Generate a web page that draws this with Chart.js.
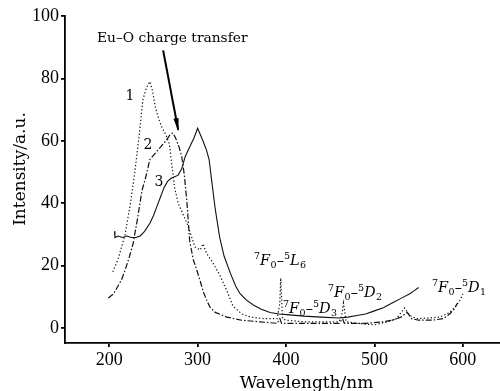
<!DOCTYPE html>
<html>
<head>
<meta charset="utf-8">
<script src="https://cdn.jsdelivr.net/npm/chart.js@4.4.1/dist/chart.umd.min.js"></script>
<style>
  body { margin: 0; background: #fff; }
  canvas { display: block; }
</style>
</head>
<body>
<canvas id="specChart" width="500" height="391"></canvas>
<script>
// excitation spectra
const wl1 = [204, 210, 218, 224, 229, 234, 238, 242, 246, 249, 252, 256, 260, 264, 268, 271, 274, 278, 288, 297, 303, 306, 310, 317, 325, 333, 340, 350, 360, 375, 390, 393, 394, 396, 400, 420, 440, 460, 463, 465, 468, 480, 500, 515, 525, 534, 540, 548, 560, 574, 585, 592, 597, 600];
const int1 = [18, 22, 30, 40, 50, 62, 73, 77, 79, 76, 71, 67, 64, 62, 59, 52, 45, 40, 33.6, 26, 25, 27, 24, 21, 17, 12, 7, 4.5, 3.5, 3, 3, 8, 16, 3, 2.5, 2, 2, 2, 4, 8, 2, 1.5, 1, 2, 3, 6.4, 4, 3, 3.2, 3.5, 5, 7, 9, 11];

const wl2 = [199, 205, 209, 214, 218, 223, 227, 232, 237, 241, 246, 252, 258, 264, 269, 272, 275, 279, 282, 285, 288, 291, 295, 299, 303, 306, 310, 314, 320, 333, 350, 370, 390, 393, 395, 397, 420, 440, 460, 464, 466, 470, 490, 510, 520, 530, 537, 542, 550, 565, 578, 585, 590, 594];
const int2 = [9.6, 11, 13, 15.5, 18.6, 23, 27, 35, 44, 48, 54, 56, 58, 60, 62, 62.5, 61, 58, 55, 49, 40, 28, 22, 18.6, 15, 12, 9, 6.7, 5, 3.5, 2.5, 2, 1.5, 3, 1.5, 1.5, 1.5, 1.5, 1.5, 3, 1.5, 1.5, 1.5, 2, 2.5, 3.5, 5, 3, 2.5, 2.5, 3, 4.5, 6, 8];

const wl3 = [206, 206.5, 210, 215, 220, 225, 230, 235, 240, 246, 250, 254, 258, 262, 266, 270, 274, 278, 282, 286, 291, 296, 300, 303, 306, 310, 313, 316, 320, 325, 330, 337, 343, 348, 355, 363, 372, 382, 392, 401, 420, 440, 460, 470, 480, 490, 500, 510, 520, 530, 540, 545, 550];
const int3 = [31, 29, 29.5, 29, 29.5, 29, 29, 29.5, 31, 33.6, 36, 39, 42, 45, 47, 48, 48.5, 49, 51, 55, 58, 61, 64, 62, 60, 57, 54, 47, 38, 29, 23, 17.6, 13.5, 11, 9, 7.4, 6, 5, 4.5, 4.3, 3.8, 3.5, 3.2, 3.5, 4, 4.5, 5.5, 6.5, 8, 9.5, 11, 12, 13];

const xTicks = [200, 300, 400, 500, 600];
const yTicks = [0, 20, 40, 60, 80, 100];

const toPoints = (xs, ys) => xs.map((x, i) => ({ x: x, y: ys[i] }));

const serif = '"DejaVu Serif", serif';

// draw labels like 7F0-5D3 with sup/sub parts
function drawTerm(ctx, x, y, lower, idx) {
  const parts = [
    { t: '7', k: 'sup' }, { t: 'F', k: 'it' }, { t: '0', k: 'sub' },
    { t: '\u2013', k: 'n' },
    { t: '5', k: 'sup' }, { t: lower, k: 'it' }, { t: idx, k: 'sub' }
  ];
  let cx = x;
  parts.forEach(p => {
    let dy = 0;
    if (p.k === 'sup') { ctx.font = '9.5px ' + serif; dy = -6; }
    else if (p.k === 'sub') { ctx.font = '9.5px ' + serif; dy = 3; }
    else if (p.k === 'it') { ctx.font = 'italic 14.5px ' + serif; }
    else { ctx.font = '14.5px ' + serif; }
    ctx.fillText(p.t, cx, y + dy);
    cx += ctx.measureText(p.t).width + (p.k === 'it' ? 0.5 : 0);
  });
}

const annotations = {
  id: 'annotations',
  afterDraw(chart) {
    const ctx = chart.ctx;
    const xs = chart.scales.x, ys = chart.scales.y;
    ctx.save();
    ctx.fillStyle = '#000';
    ctx.strokeStyle = '#000';
    ctx.textBaseline = 'alphabetic';

    // axis titles
    ctx.font = '17px ' + serif;
    ctx.textAlign = 'center';
    ctx.fillText('Wavelength/nm', (xs.left + xs.right) / 2 + 24, 388);
    ctx.save();
    ctx.translate(25, 169);
    ctx.rotate(-Math.PI / 2);
    ctx.fillText('Intensity/a.u.', 0, 0);
    ctx.restore();

    // charge transfer label and arrow
    ctx.textAlign = 'left';
    ctx.font = '13.8px ' + serif;
    ctx.fillText('Eu\u2013O charge transfer', 97, 42);

    const ax0 = xs.getPixelForValue(261), ay0 = ys.getPixelForValue(89);
    const ax1 = xs.getPixelForValue(278), ay1 = ys.getPixelForValue(63.5);
    ctx.lineWidth = 2;
    ctx.beginPath();
    ctx.moveTo(ax0, ay0);
    ctx.lineTo(ax1, ay1);
    ctx.stroke();
    const ang = Math.atan2(ay1 - ay0, ax1 - ax0);
    ctx.beginPath();
    ctx.moveTo(ax1 + 1.5 * Math.cos(ang), ay1 + 1.5 * Math.sin(ang));
    ctx.lineTo(ax1 - 12 * Math.cos(ang - 0.22), ay1 - 12 * Math.sin(ang - 0.22));
    ctx.lineTo(ax1 - 12 * Math.cos(ang + 0.22), ay1 - 12 * Math.sin(ang + 0.22));
    ctx.closePath();
    ctx.fill();

    // curve numbers
    ctx.font = '14px ' + serif;
    ctx.textAlign = 'center';
    ctx.textBaseline = 'middle';
    ctx.fillText('1', 130, 96);
    ctx.fillText('2', 148, 145);
    ctx.fillText('3', 159, 182);

    // transition labels
    ctx.textAlign = 'left';
    ctx.textBaseline = 'alphabetic';
    drawTerm(ctx, 254, 265, 'L', '6');
    drawTerm(ctx, 283, 313, 'D', '3');
    drawTerm(ctx, 328, 297, 'D', '2');
    drawTerm(ctx, 432, 292, 'D', '1');
    ctx.restore();
  }
};

const axisStyle = {
  border: { color: '#000', width: 1.8 },
  grid: { drawOnChartArea: false, color: '#000', lineWidth: 1.8, tickLength: 4 },
  ticks: { color: '#000', font: { family: 'Liberation Serif', size: 18 }, padding: 2, maxRotation: 0 }
};

new Chart(document.getElementById('specChart'), {
  type: 'line',
  data: {
    datasets: [
      { label: '1', data: toPoints(wl1, int1), borderColor: '#111', borderWidth: 1.2, borderDash: [1.3, 2.2], pointRadius: 0, tension: 0 },
      { label: '2', data: toPoints(wl2, int2), borderColor: '#111', borderWidth: 1.2, borderDash: [6, 2, 1.5, 2], pointRadius: 0, tension: 0 },
      { label: '3', data: toPoints(wl3, int3), borderColor: '#111', borderWidth: 1.1, pointRadius: 0, tension: 0 }
    ]
  },
  options: {
    responsive: false,
    animation: false,
    layout: { padding: { top: 16, right: 0, left: 0, bottom: 0 } },
    plugins: { legend: { display: false }, tooltip: { enabled: false } },
    scales: {
      x: Object.assign({}, axisStyle, {
        type: 'linear', min: 150, max: 642,
        afterBuildTicks: s => { s.ticks = xTicks.map(v => ({ value: v })); },
        afterFit: s => { s.height = 48; }
      }),
      y: Object.assign({}, axisStyle, {
        min: -4.8, max: 100,
        afterBuildTicks: s => { s.ticks = yTicks.map(v => ({ value: v })); },
        afterFit: s => { s.width = 65; }
      })
    }
  },
  plugins: [annotations]
});
</script>
</body>
</html>
